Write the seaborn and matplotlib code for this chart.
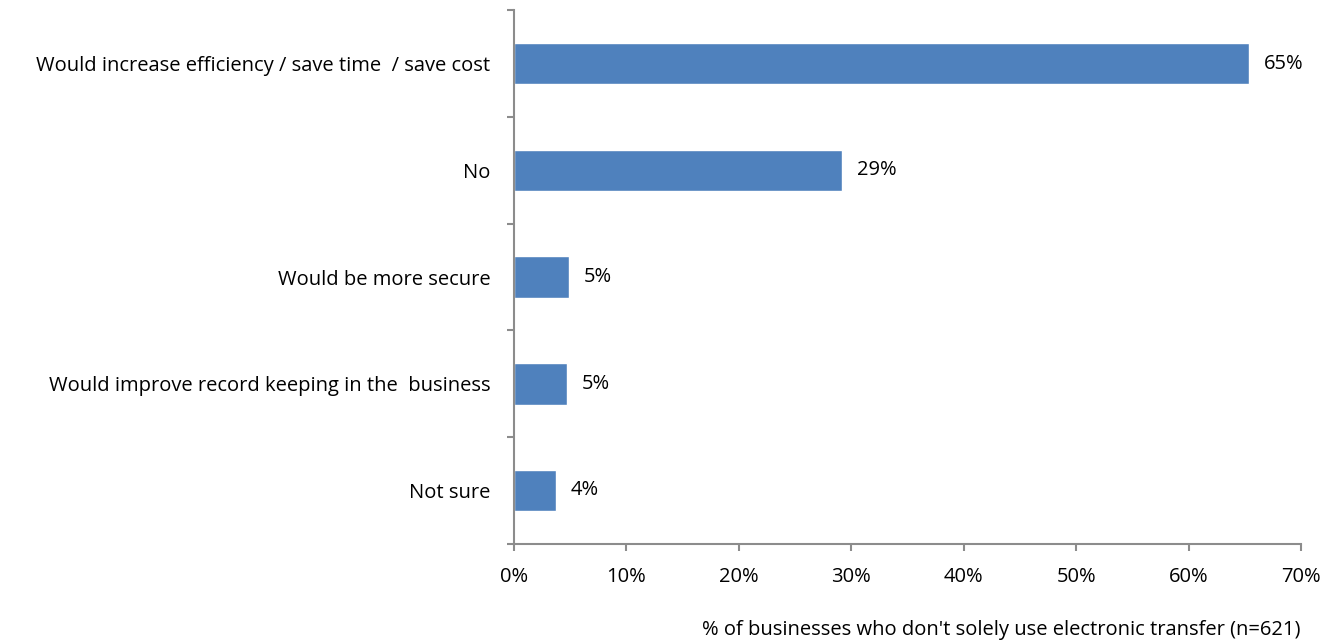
import seaborn as sns
import matplotlib.pyplot as plt
import pandas as pd
from matplotlib.ticker import MultipleLocator, FixedLocator, PercentFormatter

categories = [
    "Would increase efficiency / save time  / save cost",
    "No",
    "Would be more secure",
    "Would improve record keeping in the  business",
    "Not sure",
]
values = [65.4, 29.2, 4.9, 4.7, 3.7]
labels = ["65%", "29%", "5%", "5%", "4%"]

data = pd.DataFrame({"reason": categories, "share": values})

sns.set_theme(style="white")
plt.rcParams['font.family'] = ['Open Sans', 'DejaVu Sans']
fs = 14.5

fig = plt.figure(figsize=(13.43, 6.42), dpi=100)
ax = fig.add_axes([0.3827, 0.153, 0.5860, 0.831])

sns.barplot(data=data, x="share", y="reason", color="#4F81BD", saturation=1,
            width=0.39, orient="h", ax=ax)

for i, (v, lab) in enumerate(zip(values, labels)):
    ax.text(v + 1.3, i, lab, va="center", ha="left", fontsize=fs, color="#000000")

ax.set_xlim(0, 70)
ax.set_ylim(len(categories) - 0.5, -0.5)
ax.xaxis.set_major_locator(MultipleLocator(10))
ax.xaxis.set_major_formatter(PercentFormatter(decimals=0))

# category boundaries as y ticks, labels in the middle
ax.yaxis.set_major_locator(FixedLocator([i - 0.5 for i in range(len(categories) + 1)]))
ax.yaxis.set_minor_locator(FixedLocator(list(range(len(categories)))))
ax.set_yticklabels([""] * (len(categories) + 1))
ax.set_yticklabels(categories, minor=True)
ax.tick_params(axis="y", which="minor", left=True, length=0, pad=17, labelsize=fs,
               labelcolor="#000000")
ax.tick_params(axis="y", which="major", left=True, length=5, width=1.5, color="#8c8c8c",
               direction="out")
ax.tick_params(axis="x", which="major", bottom=True, length=5, width=1.5, color="#8c8c8c",
               direction="out", pad=12, labelsize=fs, labelcolor="#000000")

for side in ["top", "right"]:
    ax.spines[side].set_visible(False)
for side in ["left", "bottom"]:
    ax.spines[side].set_color("#8c8c8c")
    ax.spines[side].set_linewidth(1.5)

ax.set_ylabel("")
ax.set_xlabel("% of businesses who don't solely use electronic transfer (n=621)",
              fontsize=fs, color="#000000")
ax.xaxis.set_label_coords(1.0, -0.142)
ax.xaxis.label.set_horizontalalignment("right")

fig.savefig("out.png", dpi=100)
